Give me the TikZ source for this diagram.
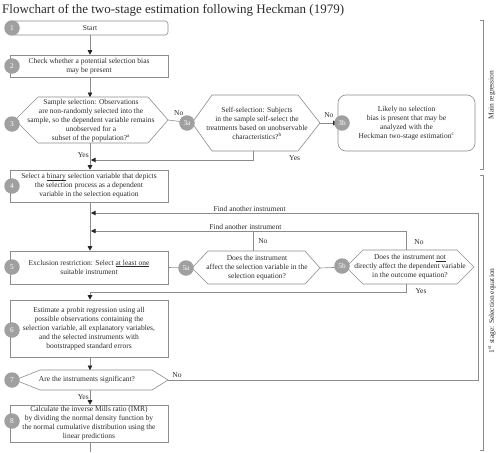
\documentclass[tikz,border=0pt]{standalone}
\usepackage{fontspec}
\setmainfont{Liberation Serif}
\usetikzlibrary{arrows.meta}
\definecolor{lc}{HTML}{8C8C8C}
\definecolor{cc}{HTML}{A0A0A0}
\definecolor{tc}{HTML}{2A2A2A}
\newcommand\myul[1]{\setbox0\hbox{#1}\rlap{\rule[-1.1pt]{\wd0}{0.4pt}}\box0\relax}
\begin{document}
\begin{tikzpicture}[x=1pt,y=-1pt,
  txt/.style={font=\fontsize{7.5}{9}\selectfont, align=center, inner sep=0pt, text=tc},
  box/.style={draw=lc, line width=0.6pt, txt, minimum width=158pt},
  num/.style={circle, fill=cc, text=white, minimum size=15.5pt, inner sep=0pt, font=\fontsize{7.3}{8}\selectfont},
  ln/.style={draw=lc, line width=0.6pt},
  arr/.style={ln, -{Triangle[length=4.5pt,width=4.5pt,color=black!85]}},
  lbl/.style={font=\fontsize{7.5}{9}\selectfont, inner sep=1pt, text=tc},
  hex/.style={draw=lc, line width=0.6pt},
]
\useasboundingbox (0,0) rectangle (500,452);

% title
\node[anchor=base west, inner sep=0pt, font=\fontsize{13}{15}\selectfont, text=tc] (title) at (2,14) {Flowchart of the two-stage estimation following Heckman (1979)};

% boxes
\node[box, rounded corners=3pt, minimum width=156pt, minimum height=14pt] (n1) at (90,28) {Start};
\node[box, minimum height=22pt] (n2) at (89,66) {Check whether a potential selection bias\\ may be present};

\draw[hex] (15,120) coordinate (h3l) -- (38,97) coordinate (h3tl) -- (148,97) coordinate (h3tr) -- (168,120) coordinate (h3r) -- (148,143) coordinate (h3br) -- (38,143) coordinate (h3bl) -- cycle;
\node[txt] (n3) at (91,121) {Sample selection: Observations\\ are non-randomly selected into the\\ sample, so the dependent variable remains\\ unobserved for a\\ subset of the population?\textsuperscript{a}};

\draw[hex] (192,123) coordinate (h3al) -- (212,95) coordinate (h3atl) -- (298,95) coordinate (h3atr) -- (320,123) coordinate (h3ar) -- (298,151) coordinate (h3abr) -- (212,151) coordinate (h3abl) -- cycle;
\node[txt] (n3a) at (257,123) {Self-selection: Subjects\\ in the sample self-select the\\ treatments based on unobservable\\ characteristics?\textsuperscript{b}};

\node[box, rounded corners=8pt, minimum width=137pt, minimum height=56pt] (n3b) at (406.5,123) {Likely no selection\\ bias is present that may be\\ analyzed with the\\ Heckman two-stage estimation\textsuperscript{c}};

\node[box, minimum height=32pt] (n4) at (89,186) {Select a \myul{binary} selection variable that depicts\\ the selection process as a dependent\\ variable in the selection equation};

\node[box, minimum height=33pt] (n5) at (89,267.5) {Exclusion restriction: Select \myul{at least one}\\ suitable instrument};

\draw[hex] (192,268) coordinate (h5al) -- (208,251) coordinate (h5atl) -- (305,251) coordinate (h5atr) -- (320,268) coordinate (h5ar) -- (305,284) coordinate (h5abr) -- (208,284) coordinate (h5abl) -- cycle;
\node[txt] (n5a) at (257,268) {Does the instrument\\ affect the selection variable in the\\ selection equation?};

\draw[hex] (346,267) coordinate (h5bl) -- (363,250) coordinate (h5btl) -- (457,250) coordinate (h5btr) -- (474,267) coordinate (h5br) -- (457,284) coordinate (h5bbr) -- (363,284) coordinate (h5bbl) -- cycle;
\node[txt] (n5b) at (410,267) {Does the instrument \myul{not}\\ directly affect the dependent variable\\ in the outcome equation?};

\node[box, minimum height=57pt] (n6) at (89,328.5) {Estimate a probit regression using all\\ possible observations containing the\\ selection variable, all explanatory variables,\\ and the selected instruments with\\ bootstrapped standard errors};

\draw[hex] (15,380) coordinate (h7l) -- (40,370) coordinate (h7tl) -- (152,370) coordinate (h7tr) -- (168,380) coordinate (h7r) -- (152,390) coordinate (h7br) -- (40,390) coordinate (h7bl) -- cycle;
\node[txt] (n7) at (87,380) {Are the instruments significant?};

\node[box, minimum height=37pt] (n8) at (89,423.5) {Calculate the inverse Mills ratio (IMR)\\ by dividing the normal density function by\\ the normal cumulative distribution using the\\ linear predictions};

% junction coordinates
\coordinate (x0) at (90,0);
\coordinate (j3a) at (91,160);
\coordinate (jf1) at (91,213);
\coordinate (jf2) at (91,231);
\coordinate (jy5b) at (90,292);
\coordinate (c7r) at (478,380);
\coordinate (c7t) at (478,213);
\coordinate (c5at) at (253,231);
\coordinate (c5bt) at (406,231);
\coordinate (endl) at (90,452);

% connectors
\draw[arr] (n1.south -| x0) -- (n2.north -| x0);
\draw[arr] (n2.south -| x0) -- (h3tl -| x0);
\draw[arr] (h3bl -| x0) -- node[lbl, left, pos=0.45] {Yes} (n4.north -| x0);
\draw[arr] (h3r) -- node[lbl, above, pos=0.45, yshift=4pt] {No} (h3al);
\draw[arr] (h3abl -| c5at) -- (j3a -| c5at) -- (j3a);
\node[lbl, anchor=west] (y3a) at (288,158) {Yes};
\draw[arr] (h3ar) -- node[lbl, above, yshift=4pt] {No} (n3b.west);

\draw[arr] (n4.south -| x0) -- (n5.north -| x0);
\draw[arr] (n5.east) -- (h5al);
\draw[arr] (h5ar) -- (h5bl);

\draw[arr] (h7r) -- (c7r) -- (c7t) -- node[lbl, above, pos=0.59] {Find another instrument} (jf1);
\node[lbl] (no7) at (177,375) {No};
\draw[arr] (h5btl -| c5bt) -- (c5bt) -- node[lbl, above, pos=0.51] {Find another instrument} (jf2);
\draw[ln] (h5atl -| c5at) -- node[lbl, right, xshift=4pt] {No} (c5at);
\node[lbl] (no5b) at (419,242) {No};
\draw[arr] (h5bbl -| c5bt) -- (jy5b -| c5bt) -- (jy5b) -- (n6.north -| x0);
\node[lbl] (y5b) at (421,291) {Yes};

\draw[arr] (n6.south -| x0) -- (h7tl -| x0);
\draw[arr] (h7bl -| x0) -- node[lbl, left] {Yes} (n8.north -| x0);
\draw[ln] (n8.south -| x0) -- (endl);

% circles
\node[num] (c1) at (12,28) {1};
\node[num] (c2) at (12,66) {2};
\node[num] (c3) at (12,124) {3};
\node[num] (c3a) at (187,123) {3a};
\node[num] (c3b) at (342,123) {3b};
\node[num] (c4) at (12,186) {4};
\node[num] (c5) at (12,267) {5};
\node[num] (c5a) at (186,268) {5a};
\node[num] (c5b) at (342,266) {5b};
\node[num] (c6) at (12,330) {6};
\node[num] (c7) at (12,380) {7};
\node[num] (c8) at (12,421) {8};

% brackets
\draw[ln] (480,20) -- (483,20) -- (483,169) -- (480,169);
\draw[ln] (480,175) -- (483,175) -- (483,450) -- (480,450);
\node[lbl, rotate=90] (mr) at (492,95) {Main regression};
\node[lbl, rotate=90] (fs) at (492,311) {1\textsuperscript{st} stage: Selection equation};
\end{tikzpicture}
\end{document}
